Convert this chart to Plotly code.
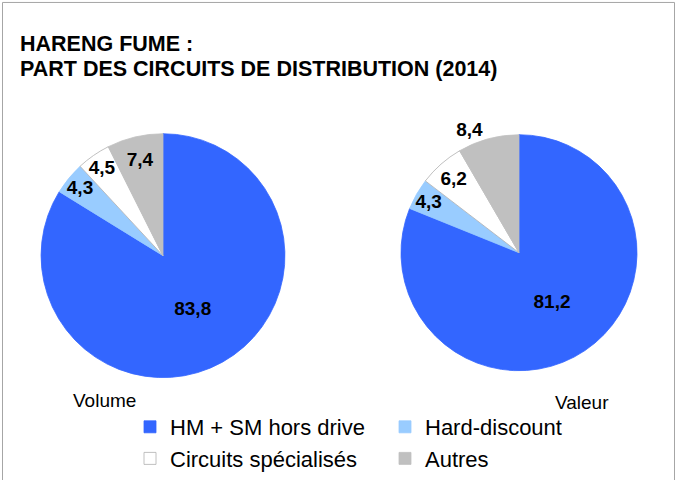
import plotly.graph_objects as go

# Distribution channel shares (%) for smoked herring, 2014
channels = ["HM + SM hors drive", "Hard-discount", "Circuits spécialisés", "Autres"]
volume_share = [83.8, 4.3, 4.5, 7.4]
value_share = [81.2, 4.3, 6.2, 8.4]

slice_colors = ["#3366FF", "#99CCFF", "#FFFFFF", "#C0C0C0"]
edge_colors = ["#3366FF", "#99CCFF", "#B0B0B0", "#C0C0C0"]

FONT = "Liberation Sans, Arial, sans-serif"
label_font = dict(family=FONT, size=19, color="#000000", weight="bold")

fig = go.Figure()

fig.add_trace(go.Pie(
    labels=channels,
    values=volume_share,
    sort=False,
    direction="clockwise",
    rotation=0,
    marker=dict(colors=slice_colors, line=dict(color=edge_colors, width=0.8)),
    texttemplate="%{value:.1f}",
    textposition="inside",
    insidetextorientation="horizontal",
    textfont=label_font,
    domain=dict(x=[39 / 677, 287 / 677], y=[96 / 480, 344 / 480]),
    hoverinfo="label+value",
    showlegend=True,
))

fig.add_trace(go.Pie(
    labels=channels,
    values=value_share,
    sort=False,
    direction="clockwise",
    rotation=0,
    marker=dict(colors=slice_colors, line=dict(color=edge_colors, width=0.8)),
    texttemplate="%{value:.1f}",
    textposition=["inside", "inside", "inside", "outside"],
    insidetextorientation="horizontal",
    textfont=label_font,
    domain=dict(x=[399 / 677, 639 / 677], y=[103 / 480, 343 / 480]),
    hoverinfo="label+value",
    showlegend=False,
))

annotations = [
    dict(text="<b>HARENG FUME :</b>", x=18 / 677, y=(480 - 45) / 480,
         xanchor="left", yanchor="middle", font=dict(family=FONT, size=21.5, color="#000")),
    dict(text="<b>PART DES CIRCUITS DE DISTRIBUTION (2014)</b>", x=18 / 677, y=(480 - 70) / 480,
         xanchor="left", yanchor="middle", font=dict(family=FONT, size=21.5, color="#000")),
    dict(text="Volume", x=71 / 677, y=(480 - 407) / 480,
         xanchor="left", yanchor="middle", font=dict(family=FONT, size=19, color="#000")),
    dict(text="Valeur", x=553 / 677, y=(480 - 409) / 480,
         xanchor="left", yanchor="middle", font=dict(family=FONT, size=19, color="#000")),
]
for a in annotations:
    a.update(xref="paper", yref="paper", showarrow=False)

fig.update_layout(
    width=677,
    height=480,
    margin=dict(l=0, r=0, t=0, b=0),
    paper_bgcolor="#FFFFFF",
    plot_bgcolor="#FFFFFF",
    separators=", ",
    font=dict(family=FONT, color="#000000"),
    uniformtext=dict(minsize=19, mode="show"),
    annotations=annotations,
    legend=dict(
        orientation="h",
        x=130 / 677,
        xanchor="left",
        y=(480 - 413) / 480,
        yanchor="top",
        entrywidth=210,
        font=dict(family=FONT, size=22, color="#000000"),
        bgcolor="rgba(0,0,0,0)",
        traceorder="normal",
    ),
    shapes=[dict(
        type="rect", xref="paper", yref="paper",
        x0=2.5 / 677, x1=674.5 / 677, y0=-0.05, y1=(480 - 2.5) / 480,
        line=dict(color="#A6A6A6", width=1), fillcolor="rgba(0,0,0,0)", layer="below",
    )],
)

fig.write_html("out.html")
